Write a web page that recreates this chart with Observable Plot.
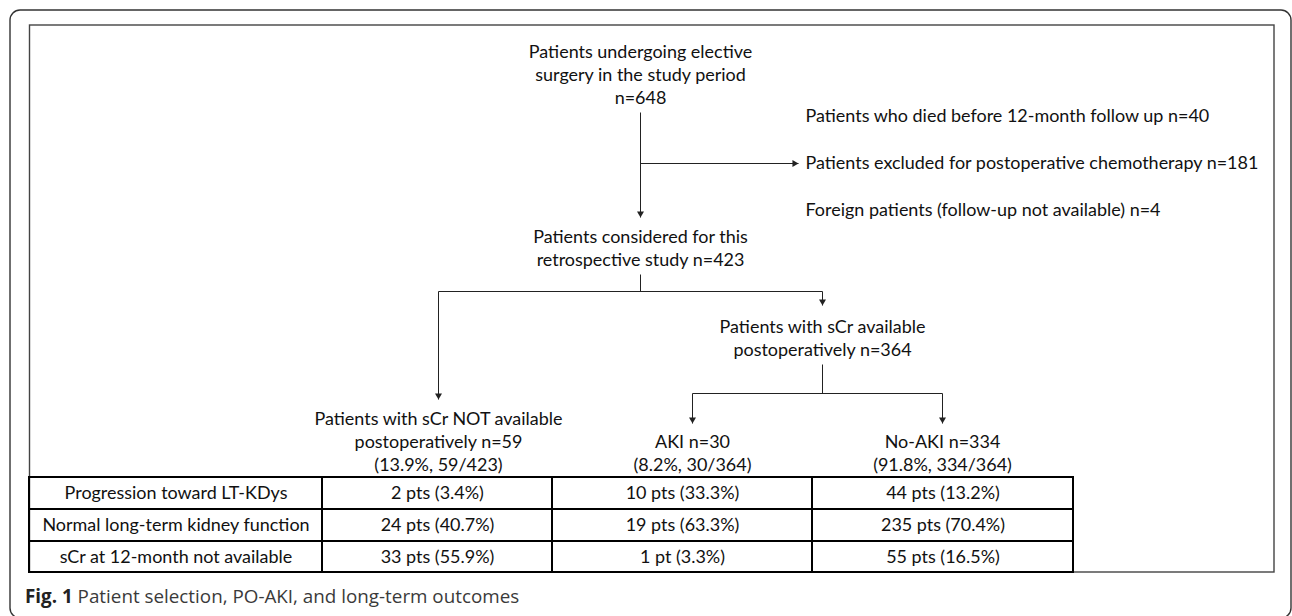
<!DOCTYPE html>
<html><head><meta charset="utf-8">
<script src="https://cdn.jsdelivr.net/npm/d3@7"></script>
<script src="https://cdn.jsdelivr.net/npm/@observablehq/plot@0.6"></script>
<style>
body{margin:0;background:#fff;}
#wrap{position:relative;width:1292px;height:616px;overflow:hidden;}
#cap{position:absolute;left:25px;white-space:nowrap;color:#3a3a3a;}
#cap b{color:#222;}
</style></head><body><div id="wrap"><div id="cap"><b>Fig. 1</b> Patient selection, PO-AKI, and long-term outcomes</div></div>
<script>
// ---------- data ----------
const screeningLines = ["Patients undergoing elective", "surgery in the study period", "n=648"];
const exclusionLines = [
  "Patients who died before 12-month follow up n=40",
  "Patients excluded for postoperative chemotherapy n=181",
  "Foreign patients (follow-up not available) n=4"
];
const consideredLines = ["Patients considered for this", "retrospective study n=423"];
const availableLines = ["Patients with sCr available", "postoperatively n=364"];
const notAvailableLines = ["Patients with sCr NOT available", "postoperatively n=59", "(13.9%, 59/423)"];
const akiLines = ["AKI n=30", "(8.2%, 30/364)"];
const noAkiLines = ["No-AKI n=334", "(91.8%, 334/364)"];
const outcomeLabels = ["Progression toward LT-KDys", "Normal long-term kidney function", "sCr at 12-month not available"];
const notAvailableOutcomes = ["2 pts (3.4%)", "24 pts (40.7%)", "33 pts (55.9%)"];
const akiOutcomes = ["10 pts (33.3%)", "19 pts (63.3%)", "1 pt (3.3%)"];
const noAkiOutcomes = ["44 pts (13.2%)", "235 pts (70.4%)", "55 pts (16.5%)"];

// ---------- layout (pixel positions on identity scales) ----------
const FONT = "Lato, 'Liberation Sans', sans-serif";
const CAPFONT = "'Open Sans', sans-serif";
function fit(text, font, target, weight = "normal") {
  const ctx = document.createElement("canvas").getContext("2d");
  ctx.font = `${weight} 100px ${font}`;
  return 100 * target / ctx.measureText(text).width;
}
const fs = fit(exclusionLines[1], FONT, 454);
const LH = 23;               // line spacing in px
const lh = LH / fs;          // in ems

const X = {main: 640, excl: 805, notAvail: 438, avail: 822, aki: 692, noAki: 942};
const colEdges = [29, 322, 552, 812, 1073];
const rowEdges = [477, 509, 541, 572];
const frame = {x1: 29.5, x2: 1274, y1: 25, y2: 572};
const outer = {x1: 10, x2: 1291, y1: 10, y2: 618};

const nodes = [
  {x: X.main, lines: screeningLines, firstY: 50},
  {x: X.main, lines: consideredLines, firstY: 235},
  {x: X.avail, lines: availableLines, firstY: 325},
  {x: X.notAvail, lines: notAvailableLines, lastY: 463},
  {x: X.aki, lines: akiLines, lastY: 463},
  {x: X.noAki, lines: noAkiLines, lastY: 463}
].map(d => {
  const n = d.lines.length;
  const first = d.firstY ?? d.lastY - (n - 1) * LH;
  return {x: d.x, y: first + (n - 1) * LH / 2, text: d.lines.join("\n")};
});
const exclusions = exclusionLines.map((t, i) => ({x: X.excl, y: 116 + i * 47, text: t}));

// connector segments
const segs = [
  {x1: X.main, y1: 112, x2: X.main, y2: 217, head: "down"},
  {x1: X.main, y1: 163, x2: 798, y2: 163, head: "right"},
  {x1: X.main, y1: 274, x2: X.main, y2: 291},
  {x1: X.notAvail, y1: 291, x2: X.avail, y2: 291},
  {x1: X.notAvail, y1: 291, x2: X.notAvail, y2: 399, head: "down"},
  {x1: X.avail, y1: 291, x2: X.avail, y2: 305, head: "down"},
  {x1: X.avail, y1: 364, x2: X.avail, y2: 393},
  {x1: X.aki, y1: 393, x2: X.noAki, y2: 393},
  {x1: X.aki, y1: 393, x2: X.aki, y2: 423, head: "down"},
  {x1: X.noAki, y1: 393, x2: X.noAki, y2: 423, head: "down"}
];
const R = 2.6;
const ay = Math.sqrt(Math.PI * R * R / (3 * Math.sqrt(3)));
const heads = segs.filter(s => s.head).map(s => s.head === "down"
  ? {x: s.x2, y: s.y2 - 2 * ay, rotate: 180}
  : {x: s.x2 - 2 * ay, y: s.y2, rotate: 90});

// table
const cols = [outcomeLabels, notAvailableOutcomes, akiOutcomes, noAkiOutcomes];
const cells = [];
cols.forEach((col, c) => col.forEach((t, r) => cells.push({
  x1: colEdges[c], x2: colEdges[c + 1], y1: rowEdges[r], y2: rowEdges[r + 1], text: t
})));

const chart = Plot.plot({
  width: 1292, height: 616, margin: 0,
  x: {type: "identity", axis: null},
  y: {type: "identity", axis: null},
  style: {fontFamily: FONT, background: "white"},
  marks: [
    Plot.rect([outer], {x1: "x1", x2: "x2", y1: "y1", y2: "y2", rx: 10, fill: "none", stroke: "#333", strokeWidth: 1.4}),
    Plot.rect([frame], {x1: "x1", x2: "x2", y1: "y1", y2: "y2", fill: "none", stroke: "#444", strokeWidth: 1.4}),
    Plot.link(segs, {x1: "x1", y1: "y1", x2: "x2", y2: "y2", stroke: "#222", strokeWidth: 1}),
    Plot.dot(heads, {x: "x", y: "y", rotate: "rotate", symbol: "triangle", r: R, fill: "#222", stroke: "none"}),
    Plot.text(nodes, {x: "x", y: "y", text: "text", fontSize: fs, lineHeight: lh, fill: "#111", textAnchor: "middle", lineAnchor: "middle"}),
    Plot.text(exclusions, {x: "x", y: "y", text: "text", fontSize: fs, fill: "#111", textAnchor: "start"}),
    Plot.rect(cells, {x1: "x1", x2: "x2", y1: "y1", y2: "y2", fill: "none", stroke: "#000", strokeWidth: 2}),
    Plot.text(cells, {x: d => (d.x1 + d.x2) / 2, y: d => (d.y1 + d.y2) / 2, text: "text", fontSize: fs, fill: "#111"})
  ]
});
const wrap = document.getElementById("wrap");
wrap.insertBefore(chart, wrap.firstChild);
const cap = document.getElementById("cap");
const capFs = fit("Fig. 1 Patient selection, PO-AKI, and long-term outcomes", CAPFONT, 492);
cap.style.fontFamily = CAPFONT;
cap.style.fontSize = capFs + "px";
cap.style.lineHeight = "1";
cap.style.top = (597 - capFs * 0.55) + "px";
</script>
</body></html>
